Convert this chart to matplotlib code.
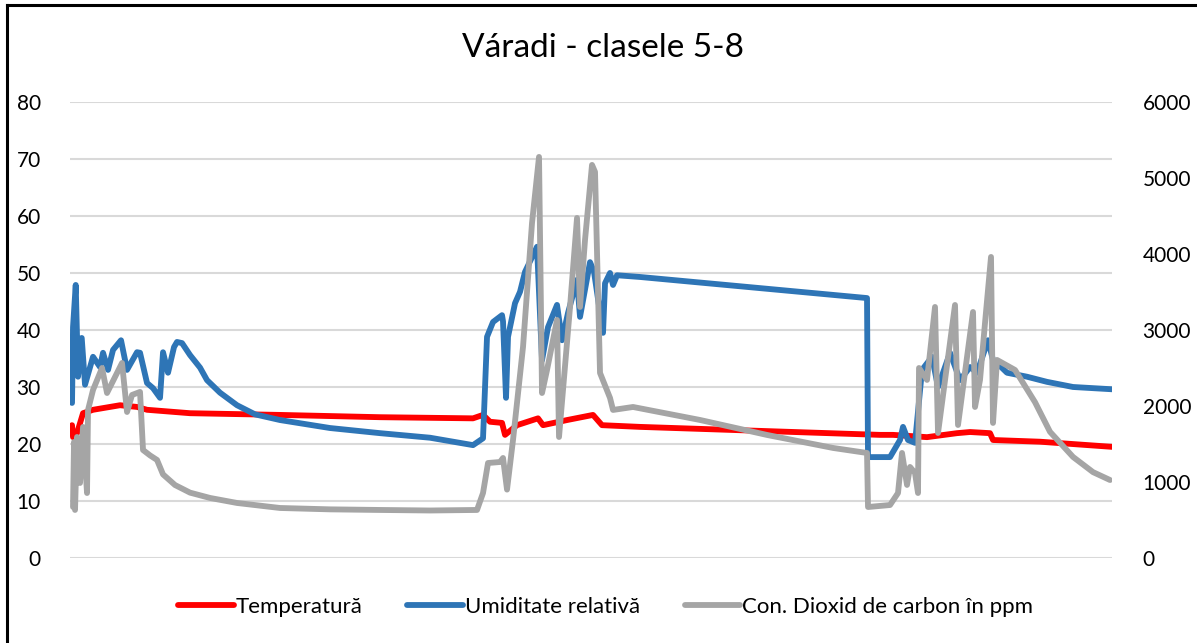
import matplotlib.pyplot as plt
from matplotlib.lines import Line2D

# readings along the monitoring period (sample position)
t_temp = [2, 3, 7, 13, 23, 50, 67, 77, 120, 210, 310, 403, 413, 420, 432, 435, 447, 468, 473,
          497, 523, 532, 570, 690, 810, 823, 857, 887, 900, 920, 923, 970, 1042]
temperatura = [23.3, 21.2, 21.9, 25.4, 26.0, 26.8, 26.5, 26.0, 25.4, 25.1, 24.7, 24.5, 25.1, 23.9,
               23.7, 21.6, 23.3, 24.5, 23.3, 24.2, 25.1, 23.3, 23.0, 22.3, 21.6, 21.6, 21.2, 21.9,
               22.1, 21.9, 20.7, 20.4, 19.5]

t_umid = [2, 3, 5.7, 8, 11.7, 15, 23, 30, 33, 38, 43, 51, 57, 67, 70, 77, 83, 90, 93, 98, 104,
          107, 112, 120, 130, 137, 150, 167, 185, 210, 260, 310, 360, 403, 413, 417, 423, 432, 433,
          436, 438, 445, 450, 455, 467, 472, 478, 487, 492, 498, 507, 510, 520, 524, 533, 535, 540,
          543, 547, 570, 797, 798, 820, 830, 833, 838, 845, 852, 862, 868, 880, 890, 900, 907, 918,
          923, 927, 937, 957, 977, 1003, 1042]
umiditate = [27.2, 40.5, 47.9, 31.8, 38.6, 30.4, 35.3, 33.5, 36.0, 33.0, 36.5, 38.2, 33.0, 36.1,
             36.0, 30.7, 29.8, 28.1, 36.1, 32.5, 37.0, 37.9, 37.7, 35.6, 33.4, 31.2, 29.0, 26.8,
             25.2, 24.2, 22.8, 21.9, 21.1, 19.8, 21.0, 38.8, 41.4, 42.6, 41.5, 28.1, 38.8, 44.7,
             46.7, 50.2, 54.6, 34.7, 40.5, 44.4, 38.2, 43.0, 48.8, 42.3, 51.9, 50.2, 39.5, 48.2,
             50.0, 47.9, 49.6, 49.3, 45.6, 17.7, 17.7, 20.7, 23.0, 20.7, 20.2, 33.0, 35.3, 30.0,
             36.0, 31.2, 33.5, 32.5, 38.2, 34.7, 34.2, 32.5, 31.8, 30.9, 30.0, 29.6]

t_co2 = [3, 4, 5, 7, 10, 13, 17, 18, 23, 32, 37, 52, 57, 62, 70, 73, 80, 87, 93, 105, 120, 140,
         167, 210, 260, 310, 360, 407, 413, 418, 430, 433, 437, 443, 453, 462, 469, 472, 477,
         487, 489, 500, 507, 510, 515, 522, 525, 530, 540, 543, 563, 630, 697, 763, 797, 798,
         820, 828, 832, 837, 840, 845, 848, 849, 857, 865, 868, 885, 888, 903, 905, 910, 915,
         921, 923, 927, 945, 965, 980, 1003, 1023, 1040]
co2 = [671, 1527, 632, 1592, 987, 1724, 855, 1948, 2211, 2500, 2171, 2566, 1921, 2145, 2185,
       1421, 1350, 1290, 1100, 960, 860, 790, 724, 658, 640, 632, 625, 632, 855, 1250, 1263,
       1316, 900, 1553, 2777, 4408, 5277, 2171, 2474, 3132, 1592, 3303, 4474, 3303, 4185, 5172,
       5080, 2435, 2106, 1948, 1987, 1816, 1619, 1448, 1382, 671, 697, 855, 1382, 961, 1198,
       1119, 855, 2500, 2343, 3303, 1645, 3329, 1750, 3237, 1987, 2343, 3092, 3961, 1777, 2606,
       2474, 2050, 1660, 1330, 1130, 1026]

ROSU = '#FF0000'
ALBASTRU = '#2E75B6'
GRI = '#A5A5A5'
FONT = 'Lato'

fig = plt.figure(figsize=(11.97, 6.43), dpi=100)
ax = fig.add_axes([0.0585, 0.1322, 0.8705, 0.7092])
ax2 = ax.twinx()

ax.plot(t_temp, temperatura, color=ROSU, lw=4.2, solid_joinstyle='round', solid_capstyle='round')
ax.plot(t_umid, umiditate, color=ALBASTRU, lw=4.2, solid_joinstyle='round', solid_capstyle='round')
ax2.plot(t_co2, co2, color=GRI, lw=4.2, solid_joinstyle='round', solid_capstyle='round')

ax.set_xlim(0, 1042)
ax.set_ylim(0, 80)
ax2.set_ylim(0, 6000)
ax.set_yticks(range(0, 81, 10))
ax2.set_yticks(range(0, 6001, 1000))
ax.set_xticks([])

ax.grid(axis='y', color='#D9D9D9', lw=1.5)
ax.set_axisbelow(True)
for a in (ax, ax2):
    for s in a.spines.values():
        s.set_visible(False)
    a.tick_params(length=0, labelsize=15)
    for lbl in a.get_yticklabels():
        lbl.set_fontfamily(FONT)
ax.tick_params(axis='y', pad=21)
ax2.tick_params(axis='y', pad=22)

fig.text(0.504, 0.925, 'Váradi - clasele 5-8', ha='center', va='center',
         fontsize=24, fontfamily=FONT)

handles = [Line2D([], [], color=ROSU, lw=4.2, solid_capstyle='round'),
           Line2D([], [], color=ALBASTRU, lw=4.2, solid_capstyle='round'),
           Line2D([], [], color=GRI, lw=4.2, solid_capstyle='round')]
labels = ['Temperatură', 'Umiditate relativă', 'Con. Dioxid de carbon în ppm']
fig.legend(handles, labels, loc='center', bbox_to_anchor=(0.506, 0.056), ncol=3,
           frameon=False, handlelength=2.5, handletextpad=0.1, columnspacing=2.0,
           prop={'family': FONT, 'size': 16})

# chart frame
fig.add_artist(Line2D([0.0055, 1.0], [0.9925, 0.9925], transform=fig.transFigure, color='black', lw=2.2))
fig.add_artist(Line2D([0.0055, 0.0055], [0.0, 0.9925], transform=fig.transFigure, color='black', lw=2.2))

fig.savefig('out.png', dpi=100)
